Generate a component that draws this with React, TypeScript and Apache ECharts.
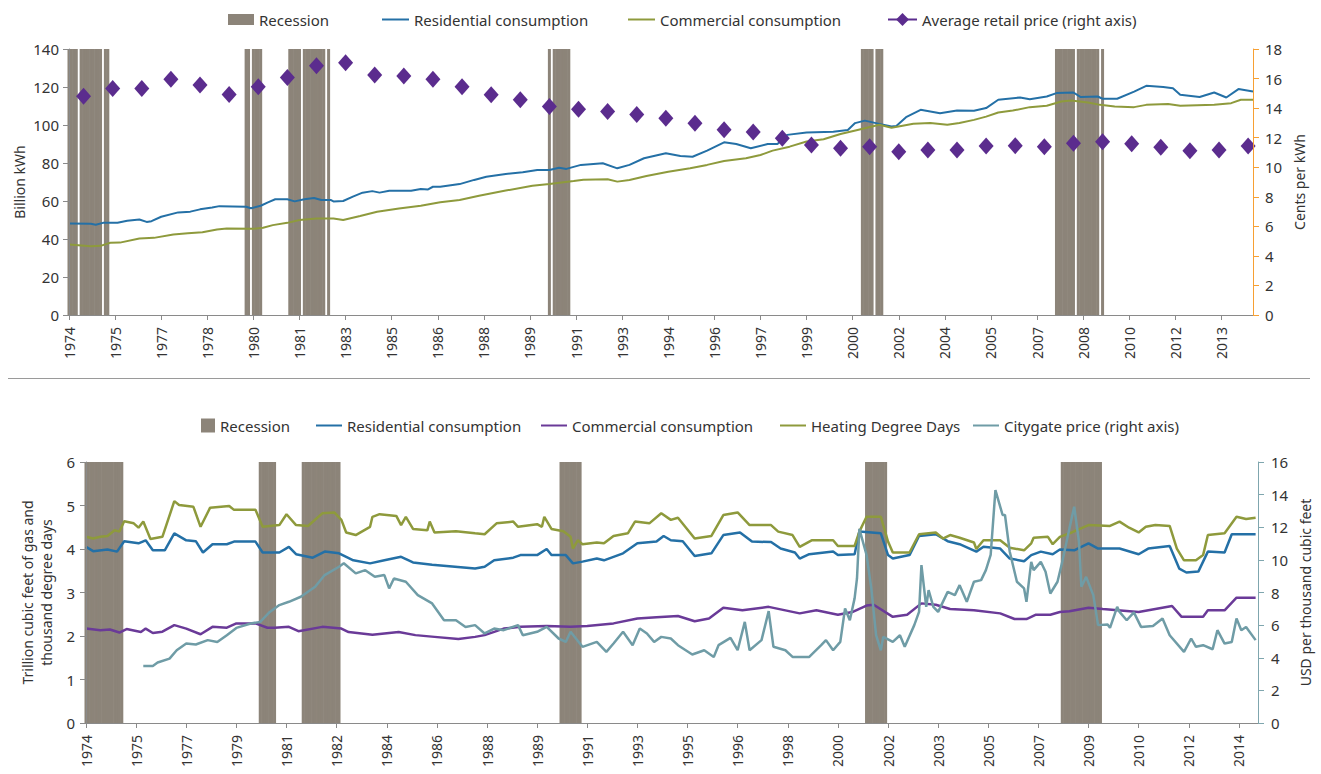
import React, { useEffect, useRef } from "react";
import * as echarts from "echarts";

const FONT = "'Noto Sans', 'Open Sans', sans-serif";
const TEXT = "#333333";
const REC_COLOR = "#8C8479";
const BLUE = "#2470A6";
const OLIVE = "#8E9A3C";
const PURPLE = "#5B2C8E";
const PURPLE2 = "#6A3A98";
const TEAL = "#6F9CA6";
const ORANGE = "#F7A033";
const AXIS_GRAY = "#8a8a8a";

// ---------- categories ----------
const START_YEAR = 1974;
const TOP_MONTH_COUNT = 489; // 1974-01 .. 2014-09
const BOTTOM_MONTH_COUNT = 492; // 1974-01 .. 2014-12

function buildMonths(startYear: number, count: number): string[] {
  const out: string[] = [];
  for (let i = 0; i < count; i++) {
    const y = startYear + Math.floor(i / 12);
    const m = (i % 12) + 1;
    out.push(`${y}-${m < 10 ? "0" + m : m}`);
  }
  return out;
}
const topMonths = buildMonths(START_YEAR, TOP_MONTH_COUNT);
const bottomMonths = buildMonths(START_YEAR, BOTTOM_MONTH_COUNT);

// ---------- top chart data (electricity) ----------
const topRecessions: [string, string][] = [
  ["1974-01", "1974-04"], ["1974-06", "1975-02"], ["1975-04", "1975-05"],
  ["1980-02", "1980-03"], ["1980-05", "1980-08"],
  ["1981-08", "1981-12"], ["1982-02", "1982-10"], ["1982-12", "1982-12"],
  ["1990-07", "1990-07"], ["1990-09", "1991-03"],
  ["2001-04", "2001-08"], ["2001-10", "2001-12"],
  ["2007-12", "2008-07"], ["2008-09", "2009-05"], ["2009-07", "2009-07"],
];

const topResidential: [string, number][] = [
  ["1974-01", 48.2], ["1974-10", 48.0], ["1974-12", 47.5], ["1975-03", 48.5], ["1975-09", 48.6],
  ["1976-01", 49.6], ["1976-06", 50.3], ["1976-09", 49.0], ["1976-11", 49.4], ["1977-03", 51.7],
  ["1977-10", 54.0], ["1978-03", 54.4], ["1978-07", 55.6], ["1978-12", 56.6], ["1979-03", 57.3],
  ["1980-02", 57.0], ["1980-04", 56.2], ["1980-08", 57.5], ["1980-11", 59.3], ["1981-02", 60.9],
  ["1981-07", 60.9], ["1981-10", 59.8], ["1982-02", 60.9], ["1982-06", 61.6], ["1982-09", 60.5],
  ["1983-01", 60.5], ["1983-02", 59.8], ["1983-06", 60.0], ["1983-10", 62.3], ["1984-02", 64.4],
  ["1984-06", 65.2], ["1984-09", 64.4], ["1985-01", 65.4], ["1985-10", 65.4], ["1986-02", 66.3],
  ["1986-05", 66.1], ["1986-07", 67.5], ["1986-10", 67.5], ["1987-06", 68.9], ["1987-12", 71.1],
  ["1988-05", 72.8], ["1989-01", 74.2], ["1989-08", 75.1], ["1990-02", 76.3], ["1990-07", 76.3],
  ["1990-11", 77.5], ["1991-02", 76.9], ["1991-08", 79.0], ["1992-05", 79.9], ["1992-11", 77.2],
  ["1993-04", 79.0], ["1993-10", 82.5], ["1994-07", 85.1], ["1995-01", 83.7], ["1995-06", 83.3],
  ["1995-12", 86.5], ["1996-07", 90.9], ["1996-12", 90.0], ["1997-06", 87.8], ["1998-01", 90.0],
  ["1998-05", 90.0], ["1998-09", 94.8], ["1999-05", 96.0], ["2000-04", 96.5], ["2000-10", 97.4],
  ["2001-01", 101.0], ["2001-05", 102.3], ["2001-11", 100.6], ["2002-04", 99.2], ["2002-06", 99.5],
  ["2002-10", 104.1], ["2003-04", 108.0], ["2003-08", 107.1], ["2003-12", 106.2], ["2004-07", 107.6],
  ["2005-02", 107.5], ["2005-07", 108.9], ["2005-12", 113.3], ["2006-09", 114.5], ["2007-01", 113.6],
  ["2007-08", 115.0], ["2007-12", 116.8], ["2008-07", 117.1], ["2008-10", 114.7], ["2009-05", 115.0],
  ["2009-07", 113.8], ["2010-01", 113.8], ["2010-08", 117.6], ["2011-01", 120.6], ["2011-08", 120.0],
  ["2011-12", 119.4], ["2012-03", 115.9], ["2012-11", 114.7], ["2013-05", 117.1], ["2013-10", 114.5],
  ["2014-03", 118.9], ["2014-09", 117.6],
];

const topCommercial: [string, number][] = [
  ["1974-01", 37.1], ["1974-10", 36.2], ["1975-02", 36.4], ["1975-06", 38.0], ["1975-10", 38.1],
  ["1976-06", 40.3], ["1976-12", 40.6], ["1977-08", 42.4], ["1978-02", 43.0], ["1978-08", 43.5],
  ["1979-02", 45.0], ["1979-06", 45.5], ["1980-05", 45.4], ["1980-09", 45.9], ["1981-01", 47.3],
  ["1981-07", 48.5], ["1981-12", 50.0], ["1982-07", 50.8], ["1983-02", 50.8], ["1983-06", 50.0],
  ["1984-01", 52.1], ["1984-08", 54.3], ["1985-05", 56.1], ["1986-02", 57.5], ["1986-10", 59.3],
  ["1987-06", 60.5], ["1988-02", 62.8], ["1989-01", 65.5], ["1989-12", 68.0], ["1990-07", 68.9],
  ["1991-05", 70.5], ["1991-09", 71.2], ["1992-07", 71.4], ["1992-11", 70.2], ["1993-04", 71.1],
  ["1993-11", 73.2], ["1994-08", 75.4], ["1995-05", 77.2], ["1995-12", 79.0], ["1996-07", 81.1],
  ["1997-04", 82.5], ["1997-10", 84.2], ["1998-03", 86.5], ["1998-10", 88.6], ["1999-05", 91.3],
  ["1999-12", 92.5], ["2000-07", 95.3], ["2001-02", 97.4], ["2001-11", 100.1], ["2002-04", 98.6],
  ["2002-08", 99.5], ["2003-01", 100.6], ["2003-08", 101.0], ["2004-03", 100.1], ["2004-08", 101.0],
  ["2005-02", 102.7], ["2005-07", 104.4], ["2005-12", 106.6], ["2006-06", 107.6], ["2007-01", 109.4],
  ["2007-08", 110.1], ["2008-02", 112.4], ["2008-06", 112.9], ["2009-01", 111.8], ["2009-06", 110.6],
  ["2009-12", 109.7], ["2010-08", 109.4], ["2011-01", 110.6], ["2011-10", 111.1], ["2012-03", 110.1],
  ["2013-05", 110.6], ["2013-12", 111.5], ["2014-04", 113.3], ["2014-09", 113.3],
];

const priceYears: number[] = [
  1974, 1975, 1976, 1977, 1978, 1979, 1980, 1981, 1982, 1983, 1984, 1985, 1986, 1987,
  1988, 1989, 1990, 1991, 1992, 1993, 1994, 1995, 1996, 1997, 1998, 1999, 2000, 2001,
  2002, 2003, 2004, 2005, 2006, 2007, 2008, 2009, 2010, 2011, 2012, 2013, 2014,
];
const priceValues: number[] = [
  14.81, 15.33, 15.33, 15.96, 15.56, 14.92, 15.44, 16.07, 16.87, 17.07, 16.24, 16.17, 15.96, 15.44,
  14.9, 14.56, 14.11, 13.93, 13.77, 13.56, 13.32, 12.98, 12.53, 12.39, 11.96, 11.51, 11.29, 11.39,
  11.04, 11.17, 11.17, 11.44, 11.46, 11.39, 11.62, 11.73, 11.58, 11.35, 11.12, 11.17, 11.44,
];

// ---------- bottom chart data (natural gas) ----------
const bottomRecessions: [string, string][] = [
  ["1974-01", "1975-04"], ["1980-02", "1980-08"], ["1981-08", "1982-11"],
  ["1990-08", "1991-04"], ["2001-04", "2001-12"], ["2008-02", "2009-06"],
];

const gasResidential: [string, number][] = [
  ["1974-01", 4.05], ["1974-04", 3.95], ["1974-10", 3.99], ["1975-02", 3.94], ["1975-05", 4.18],
  ["1975-11", 4.13], ["1976-02", 4.2], ["1976-05", 3.97], ["1976-10", 3.97], ["1977-02", 4.36],
  ["1977-07", 4.2], ["1977-11", 4.18], ["1978-02", 3.92], ["1978-06", 4.11], ["1978-12", 4.11],
  ["1979-03", 4.17], ["1979-12", 4.17], ["1980-03", 3.92], ["1980-10", 3.92], ["1981-02", 4.05],
  ["1981-05", 3.88], ["1981-12", 3.8], ["1982-05", 3.94], ["1982-11", 3.9], ["1983-05", 3.74],
  ["1983-12", 3.67], ["1984-06", 3.74], ["1985-01", 3.82], ["1985-06", 3.69], ["1986-02", 3.64],
  ["1987-08", 3.55], ["1987-12", 3.59], ["1988-04", 3.74], ["1988-12", 3.8], ["1989-03", 3.86],
  ["1989-10", 3.86], ["1990-02", 4.0], ["1990-04", 3.86], ["1990-10", 3.86], ["1991-01", 3.67],
  ["1991-05", 3.71], ["1991-11", 3.78], ["1992-02", 3.74], ["1992-10", 3.9], ["1993-04", 4.13],
  ["1993-12", 4.17], ["1994-03", 4.3], ["1994-06", 4.2], ["1994-11", 4.18], ["1995-04", 3.84],
  ["1995-11", 3.9], ["1996-04", 4.32], ["1996-11", 4.38], ["1997-04", 4.17], ["1997-12", 4.16],
  ["1998-04", 4.01], ["1998-10", 3.92], ["1998-12", 3.78], ["1999-04", 3.88], ["2000-02", 3.94],
  ["2000-04", 3.86], ["2000-11", 3.88], ["2001-01", 4.4], ["2001-10", 4.36], ["2002-01", 3.86],
  ["2002-03", 3.78], ["2002-10", 3.86], ["2003-02", 4.3], ["2003-09", 4.34], ["2004-02", 4.18],
  ["2004-07", 4.11], ["2005-02", 3.94], ["2005-05", 4.05], ["2005-12", 4.01], ["2006-04", 3.78],
  ["2006-10", 3.72], ["2007-01", 3.86], ["2007-05", 3.94], ["2007-10", 3.88], ["2008-01", 3.99],
  ["2008-07", 3.97], ["2009-01", 4.13], ["2009-05", 4.01], ["2010-02", 4.01], ["2010-10", 3.88],
  ["2011-02", 4.01], ["2011-11", 4.07], ["2012-03", 3.55], ["2012-06", 3.46], ["2012-11", 3.48],
  ["2013-03", 3.94], ["2013-10", 3.92], ["2014-01", 4.34], ["2014-11", 4.34],
];

const gasCommercial: [string, number][] = [
  ["1974-01", 2.17], ["1974-07", 2.13], ["1974-11", 2.15], ["1975-03", 2.08], ["1975-06", 2.16],
  ["1975-12", 2.09], ["1976-02", 2.17], ["1976-05", 2.07], ["1976-09", 2.1], ["1977-02", 2.25],
  ["1977-07", 2.17], ["1978-01", 2.04], ["1978-06", 2.21], ["1978-12", 2.19], ["1979-04", 2.29],
  ["1979-12", 2.29], ["1980-05", 2.19], ["1980-08", 2.19], ["1981-02", 2.21], ["1981-06", 2.11],
  ["1982-04", 2.21], ["1982-12", 2.17], ["1983-03", 2.09], ["1984-01", 2.03], ["1984-12", 2.09],
  ["1985-07", 2.02], ["1986-03", 1.98], ["1987-01", 1.93], ["1987-08", 1.98], ["1987-12", 2.02],
  ["1988-08", 2.17], ["1989-03", 2.21], ["1990-02", 2.23], ["1990-12", 2.21], ["1991-07", 2.23],
  ["1992-06", 2.29], ["1993-04", 2.4], ["1993-12", 2.43], ["1994-09", 2.46], ["1995-04", 2.34],
  ["1995-10", 2.4], ["1996-04", 2.65], ["1996-12", 2.59], ["1997-11", 2.67], ["1998-12", 2.52],
  ["1999-07", 2.59], ["2000-04", 2.49], ["2000-10", 2.55], ["2001-04", 2.7], ["2001-07", 2.72],
  ["2002-03", 2.44], ["2002-09", 2.49], ["2003-03", 2.75], ["2003-09", 2.72], ["2004-03", 2.62],
  ["2005-01", 2.59], ["2005-12", 2.52], ["2006-06", 2.39], ["2006-11", 2.39], ["2007-03", 2.49],
  ["2007-09", 2.49], ["2008-01", 2.55], ["2008-05", 2.57], ["2009-01", 2.65], ["2009-07", 2.62],
  ["2010-10", 2.55], ["2011-05", 2.62], ["2011-12", 2.69], ["2012-04", 2.44], ["2013-01", 2.44],
  ["2013-03", 2.59], ["2013-10", 2.59], ["2014-03", 2.88], ["2014-11", 2.88],
];

const heatingDegreeDays: [string, number][] = [
  ["1974-01", 4.28], ["1974-04", 4.24], ["1974-07", 4.28], ["1974-10", 4.3], ["1975-01", 4.43],
  ["1975-03", 4.4], ["1975-05", 4.64], ["1975-09", 4.59], ["1975-11", 4.49], ["1976-01", 4.63],
  ["1976-04", 4.23], ["1976-09", 4.28], ["1977-02", 5.1], ["1977-04", 5.01], ["1977-10", 4.97],
  ["1978-01", 4.51], ["1978-05", 4.95], ["1979-01", 4.99], ["1979-03", 4.9], ["1979-12", 4.9],
  ["1980-03", 4.51], ["1980-10", 4.55], ["1981-01", 4.8], ["1981-05", 4.55], ["1981-10", 4.53],
  ["1982-04", 4.82], ["1982-09", 4.84], ["1982-12", 4.67], ["1983-02", 4.38], ["1983-06", 4.32],
  ["1983-12", 4.51], ["1984-01", 4.74], ["1984-04", 4.8], ["1984-11", 4.76], ["1985-01", 4.55],
  ["1985-03", 4.74], ["1985-06", 4.46], ["1985-12", 4.43], ["1986-01", 4.63], ["1986-03", 4.38],
  ["1986-12", 4.41], ["1987-08", 4.36], ["1987-12", 4.34], ["1988-05", 4.59], ["1988-12", 4.63],
  ["1989-02", 4.51], ["1989-10", 4.57], ["1989-12", 4.51], ["1990-01", 4.74], ["1990-04", 4.46],
  ["1990-09", 4.41], ["1990-12", 4.28], ["1991-01", 4.01], ["1991-03", 4.2], ["1991-05", 4.11],
  ["1991-11", 4.15], ["1992-02", 4.13], ["1992-06", 4.3], ["1992-12", 4.36], ["1993-03", 4.63],
  ["1993-09", 4.59], ["1994-02", 4.82], ["1994-06", 4.67], ["1994-09", 4.72], ["1995-04", 4.24],
  ["1995-11", 4.3], ["1996-04", 4.78], ["1996-10", 4.84], ["1997-03", 4.55], ["1997-12", 4.55],
  ["1998-03", 4.4], ["1998-09", 4.32], ["1998-12", 4.05], ["1999-05", 4.2], ["2000-02", 4.2],
  ["2000-04", 4.07], ["2000-11", 4.07], ["2001-01", 4.4], ["2001-04", 4.74], ["2001-10", 4.74],
  ["2002-01", 4.17], ["2002-03", 3.92], ["2002-10", 3.92], ["2003-02", 4.34], ["2003-09", 4.38],
  ["2003-12", 4.24], ["2004-03", 4.32], ["2004-07", 4.26], ["2005-01", 4.15], ["2005-02", 4.0],
  ["2005-05", 4.2], ["2005-12", 4.2], ["2006-04", 4.03], ["2006-10", 3.97], ["2007-01", 4.13],
  ["2007-02", 4.26], ["2007-08", 4.28], ["2007-10", 4.11], ["2008-01", 4.28], ["2008-06", 4.38],
  ["2009-01", 4.55], ["2009-10", 4.53], ["2010-02", 4.63], ["2010-06", 4.49], ["2010-10", 4.38],
  ["2011-01", 4.51], ["2011-05", 4.55], ["2011-11", 4.53], ["2012-02", 4.01], ["2012-05", 3.74],
  ["2012-10", 3.74], ["2013-01", 3.86], ["2013-03", 4.32], ["2013-10", 4.36], ["2014-03", 4.74],
  ["2014-07", 4.69], ["2014-11", 4.72],
];

const citygatePrice: [string, number][] = [
  ["1976-01", 3.5], ["1976-05", 3.5], ["1976-07", 3.71], ["1976-12", 3.95], ["1977-03", 4.46],
  ["1977-07", 4.87], ["1977-11", 4.81], ["1978-04", 5.08], ["1978-08", 4.97], ["1978-12", 5.38],
  ["1979-04", 5.83], ["1979-10", 6.1], ["1980-02", 6.2], ["1980-06", 6.81], ["1980-10", 7.23],
  ["1981-02", 7.43], ["1981-07", 7.74], ["1982-01", 8.35], ["1982-05", 9.07], ["1982-11", 9.58],
  ["1983-01", 9.79], ["1983-06", 9.17], ["1983-10", 9.37], ["1984-02", 8.96], ["1984-06", 9.07],
  ["1984-08", 8.25], ["1984-10", 8.86], ["1985-03", 8.66], ["1985-08", 7.84], ["1986-02", 7.33],
  ["1986-07", 6.3], ["1986-12", 6.3], ["1987-04", 5.89], ["1987-08", 6.0], ["1987-12", 5.49],
  ["1988-04", 5.79], ["1988-08", 5.69], ["1989-02", 6.0], ["1989-04", 5.38], ["1989-10", 5.59],
  ["1990-02", 5.89], ["1990-07", 5.18], ["1990-10", 4.97], ["1990-12", 5.59], ["1991-05", 4.67],
  ["1991-11", 4.97], ["1992-03", 4.36], ["1992-06", 4.87], ["1992-10", 5.59], ["1993-02", 4.77],
  ["1993-05", 5.79], ["1993-08", 5.49], ["1993-11", 4.97], ["1994-02", 5.28], ["1994-06", 5.18],
  ["1994-09", 4.77], ["1995-03", 4.2], ["1995-08", 4.46], ["1995-12", 4.05], ["1996-02", 4.77],
  ["1996-07", 5.22], ["1996-10", 4.46], ["1997-01", 6.2], ["1997-03", 4.46], ["1997-08", 5.08],
  ["1997-11", 6.86], ["1998-01", 4.67], ["1998-06", 4.46], ["1998-09", 4.05], ["1999-04", 4.05],
  ["1999-09", 4.77], ["1999-11", 5.08], ["2000-02", 4.46], ["2000-05", 4.97], ["2000-07", 7.02],
  ["2000-09", 6.3], ["2000-11", 7.64], ["2000-12", 8.86], ["2001-01", 11.9], ["2001-04", 10.3],
  ["2001-06", 8.25], ["2001-08", 5.38], ["2001-10", 4.46], ["2001-11", 5.28], ["2002-03", 4.97],
  ["2002-06", 5.38], ["2002-08", 4.67], ["2002-12", 6.0], ["2003-02", 6.81], ["2003-03", 9.68],
  ["2003-05", 7.12], ["2003-06", 8.15], ["2003-08", 7.12], ["2003-10", 6.81], ["2004-02", 8.04],
  ["2004-05", 7.84], ["2004-07", 8.45], ["2004-10", 7.43], ["2005-01", 8.66], ["2005-04", 8.76],
  ["2005-06", 9.37], ["2005-08", 10.3], ["2005-10", 14.28], ["2006-01", 12.75], ["2006-02", 12.75],
  ["2006-04", 10.5], ["2006-07", 8.66], ["2006-10", 8.25], ["2006-11", 7.43], ["2007-01", 9.88],
  ["2007-02", 9.37], ["2007-05", 9.88], ["2007-07", 9.27], ["2007-09", 7.94], ["2007-12", 8.66],
  ["2008-02", 9.88], ["2008-05", 11.93], ["2008-07", 13.26], ["2008-09", 11.11], ["2008-10", 8.35],
  ["2008-12", 8.96], ["2009-03", 7.84], ["2009-05", 6.0], ["2009-09", 6.04], ["2009-10", 5.83],
  ["2010-01", 7.12], ["2010-02", 6.81], ["2010-05", 6.3], ["2010-08", 6.78], ["2010-11", 5.89],
  ["2011-04", 5.95], ["2011-08", 6.41], ["2011-11", 5.38], ["2012-05", 4.36], ["2012-08", 5.18],
  ["2012-10", 4.67], ["2013-01", 4.77], ["2013-05", 4.52], ["2013-07", 5.69], ["2013-10", 4.87],
  ["2014-01", 4.97], ["2014-03", 6.41], ["2014-05", 5.69], ["2014-07", 5.89], ["2014-11", 5.08],
];

// ---------- helpers ----------
function recessionBars(months: string[], ranges: [string, string][], top: number) {
  return months.map((m) => (ranges.some(([a, b]) => m >= a && m <= b) ? top : null));
}

const textStyleBase = { color: TEXT, fontFamily: FONT };

function catAxis(gridIndex: number, data: string[], interval: number) {
  return {
    type: "category",
    gridIndex,
    data,
    boundaryGap: false,
    axisLine: { show: true, lineStyle: { color: AXIS_GRAY, width: 1 } },
    axisTick: { show: true, interval, length: 5, lineStyle: { color: AXIS_GRAY } },
    axisLabel: {
      interval,
      rotate: 90,
      margin: 12,
      fontSize: 14,
      ...textStyleBase,
      formatter: (v: string) => v.slice(0, 4),
    },
    splitLine: { show: false },
    z: 10,
  };
}

function valAxis(
  gridIndex: number,
  position: "left" | "right",
  max: number,
  interval: number,
  name: string,
  lineColor: string,
  nameGap: number,
  labelMargin: number
) {
  return {
    type: "value",
    gridIndex,
    position,
    min: 0,
    max,
    interval,
    name,
    nameLocation: "middle",
    nameGap,
    nameMoveOverlap: false,
    nameTextStyle: { fontSize: 14, lineHeight: 19, ...textStyleBase },
    axisLine: { show: true, lineStyle: { color: lineColor, width: 1 } },
    axisTick: { show: true, length: 6, lineStyle: { color: lineColor } },
    axisLabel: { fontSize: 15, margin: labelMargin, ...textStyleBase },
    splitLine: { show: false },
    z: 10,
  };
}

const legendText = { fontSize: 15, ...textStyleBase };

function legendItem(
  name: string,
  left: number,
  top: number,
  w: number,
  h: number,
  extra: any = {},
  label?: string
) {
  return {
    left,
    top,
    itemWidth: w,
    itemHeight: h,
    padding: 0,
    itemGap: 0,
    textStyle: legendText,
    data: [{ name, ...extra }],
    formatter: label ? () => label : undefined,
  };
}

const hideSymbol = { itemStyle: { opacity: 0 } };

export default function App() {
  const ref = useRef<HTMLDivElement>(null);

  useEffect(() => {
    if (!ref.current) return;
    const chart = echarts.init(ref.current, undefined, { renderer: "svg" });

    const option: any = {
      animation: false,
      backgroundColor: "#ffffff",
      grid: [
        { left: 69, top: 49, width: 1184, height: 266, containLabel: false, outerBoundsMode: "none" },
        { left: 86, top: 462, width: 1172, height: 261, containLabel: false, outerBoundsMode: "none" },
      ],
      legend: [
        legendItem("Recession", 228, 12, 26, 11, { icon: "rect" }),
        legendItem("Residential consumption", 381, 12, 27, 11, hideSymbol),
        legendItem("Commercial consumption", 627, 12, 27, 11, hideSymbol),
        legendItem("Average retail price (right axis)", 887, 12, 29, 16, {
          lineStyle: { width: 2, opacity: 1 },
        }),
        legendItem("Gas recession", 201, 418, 14, 14, { icon: "rect" }, "Recession"),
        legendItem("Gas residential consumption", 315, 418, 26, 11, hideSymbol, "Residential consumption"),
        legendItem("Gas commercial consumption", 540, 418, 26, 11, hideSymbol, "Commercial consumption"),
        legendItem("Heating Degree Days", 779, 418, 26, 11, hideSymbol),
        legendItem("Citygate price (right axis)", 972, 418, 26, 11, hideSymbol),
      ],
      xAxis: [catAxis(0, topMonths, 18), catAxis(1, bottomMonths, 20)],
      yAxis: [
        valAxis(0, "left", 140, 20, "Billion kWh", AXIS_GRAY, 40, 10),
        valAxis(0, "right", 18, 2, "Cents per kWh", ORANGE, 37, 12),
        valAxis(1, "left", 6, 1, "Trillion cubic feet of gas and\nthousand degree days", AXIS_GRAY, 30, 11),
        valAxis(1, "right", 16, 2, "USD per thousand cubic feet", "#7FA6AE", 38, 13),
      ],
      graphic: [
        {
          type: "line",
          shape: { x1: 8, y1: 378.5, x2: 1310, y2: 378.5 },
          style: { stroke: "#9a9a9a", lineWidth: 1 },
          silent: true,
        },
      ],
      series: [
        {
          name: "Recession",
          type: "bar",
          xAxisIndex: 0,
          yAxisIndex: 0,
          barWidth: 3,
          barGap: "-100%",
          data: recessionBars(topMonths, topRecessions, 140),
          itemStyle: { color: REC_COLOR, borderWidth: 0 },
          silent: true,
          z: 1,
        },
        {
          name: "Residential consumption",
          type: "line",
          xAxisIndex: 0,
          yAxisIndex: 0,
          data: topResidential,
          showSymbol: false,
          symbol: "none",
          lineStyle: { color: BLUE, width: 2 },
          itemStyle: { color: BLUE },
          z: 3,
        },
        {
          name: "Commercial consumption",
          type: "line",
          xAxisIndex: 0,
          yAxisIndex: 0,
          data: topCommercial,
          showSymbol: false,
          symbol: "none",
          lineStyle: { color: OLIVE, width: 2 },
          itemStyle: { color: OLIVE },
          z: 3,
        },
        {
          name: "Average retail price (right axis)",
          type: "line",
          xAxisIndex: 0,
          yAxisIndex: 1,
          data: priceYears.map((y, i) => [`${y}-07`, priceValues[i]]),
          symbol: "diamond",
          symbolSize: [15, 17],
          showSymbol: true,
          showAllSymbol: true,
          lineStyle: { width: 0, opacity: 0, color: PURPLE },
          itemStyle: { color: PURPLE },
          z: 5,
        },
        {
          name: "Gas recession",
          type: "bar",
          xAxisIndex: 1,
          yAxisIndex: 2,
          barWidth: 3,
          barGap: "-100%",
          data: recessionBars(bottomMonths, bottomRecessions, 6),
          itemStyle: { color: REC_COLOR, borderWidth: 0 },
          silent: true,
          z: 1,
        },
        {
          name: "Gas residential consumption",
          type: "line",
          xAxisIndex: 1,
          yAxisIndex: 2,
          data: gasResidential,
          symbol: "none",
          lineStyle: { color: BLUE, width: 2.5 },
          itemStyle: { color: BLUE },
          z: 3,
        },
        {
          name: "Gas commercial consumption",
          type: "line",
          xAxisIndex: 1,
          yAxisIndex: 2,
          data: gasCommercial,
          symbol: "none",
          lineStyle: { color: PURPLE2, width: 2.5 },
          itemStyle: { color: PURPLE2 },
          z: 3,
        },
        {
          name: "Heating Degree Days",
          type: "line",
          xAxisIndex: 1,
          yAxisIndex: 2,
          data: heatingDegreeDays,
          symbol: "none",
          lineStyle: { color: OLIVE, width: 2.5 },
          itemStyle: { color: OLIVE },
          z: 3,
        },
        {
          name: "Citygate price (right axis)",
          type: "line",
          xAxisIndex: 1,
          yAxisIndex: 3,
          data: citygatePrice,
          symbol: "none",
          lineStyle: { color: TEAL, width: 2.5 },
          itemStyle: { color: TEAL },
          z: 3,
        },
      ],
    };

    chart.setOption(option);
    return () => chart.dispose();
  }, []);

  return (
    <div
      ref={ref}
      style={{ position: "fixed", left: 0, top: 0, width: 1321, height: 774, background: "#fff" }}
    />
  );
}
